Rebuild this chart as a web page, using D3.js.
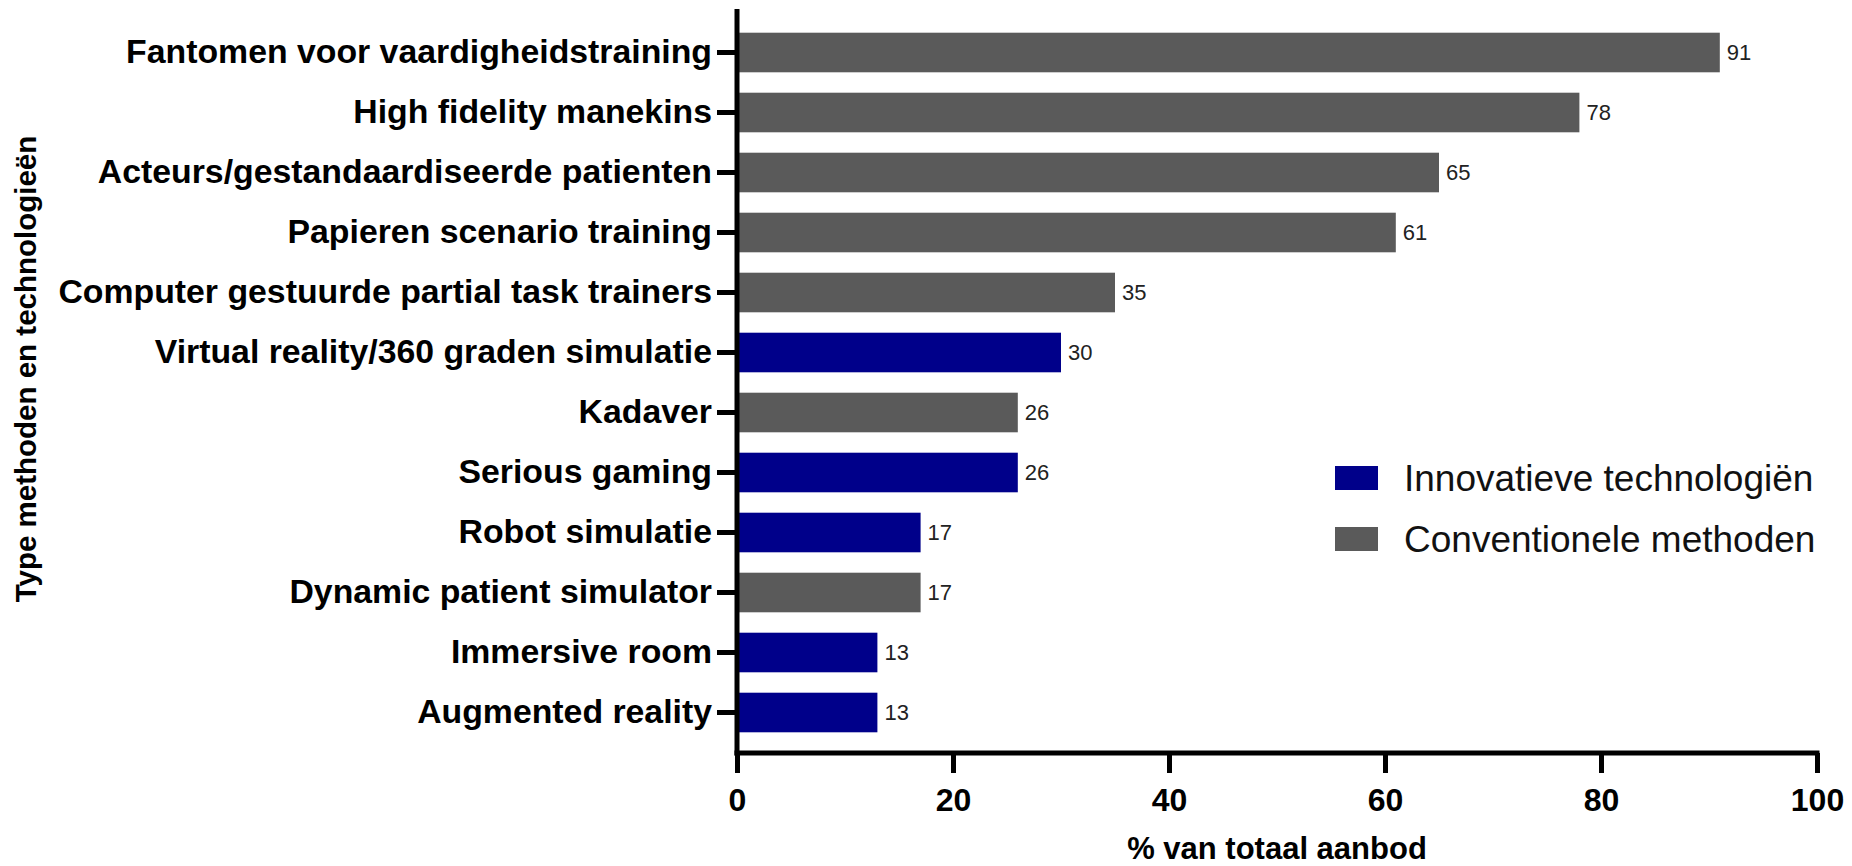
<!DOCTYPE html>
<html>
<head>
<meta charset="utf-8">
<script src="https://cdn.jsdelivr.net/npm/d3@7"></script>
<style>
  html, body { margin: 0; padding: 0; background: #ffffff; }
  svg { display: block; font-family: "Liberation Sans", Arial, sans-serif; }
</style>
</head>
<body>
<svg id="chart" width="1852" height="866"></svg>
<script>
const categories = [
  "Fantomen voor vaardigheidstraining",
  "High fidelity manekins",
  "Acteurs/gestandaardiseerde patienten",
  "Papieren scenario training",
  "Computer gestuurde partial task trainers",
  "Virtual reality/360 graden simulatie",
  "Kadaver",
  "Serious gaming",
  "Robot simulatie",
  "Dynamic patient simulator",
  "Immersive room",
  "Augmented reality"
];
const values = [91, 78, 65, 61, 35, 30, 26, 26, 17, 17, 13, 13];
const groups = ["conv", "conv", "conv", "conv", "conv", "innov", "conv", "innov", "innov", "conv", "innov", "innov"];
const legendKeys = ["innov", "conv"];
const legendLabels = ["Innovatieve technologiën", "Conventionele methoden"];
const xTicks = [0, 20, 40, 60, 80, 100];
const xTitle = "% van totaal aanbod";
const yTitle = "Type methoden en technologieën";

const svg = d3.select("#chart");
const plotLeft = 737, plotRight = 1817, plotTop = 22.5, plotBottom = 742.5, axisY = 753;

const color = d3.scaleOrdinal().domain(legendKeys).range(["#00008a", "#5a5a5a"]);
const x = d3.scaleLinear().domain([0, 100]).range([plotLeft, plotRight]);
const y = d3.scaleBand().domain(categories).range([plotTop, plotBottom]).paddingInner(0.34).paddingOuter(0.17);

// bars
svg.append("g").selectAll("rect").data(categories).join("rect")
  .attr("x", x(0))
  .attr("y", d => y(d))
  .attr("width", (d, i) => x(values[i]) - x(0))
  .attr("height", y.bandwidth())
  .attr("fill", (d, i) => color(groups[i]));

// value labels
svg.append("g").selectAll("text").data(categories).join("text")
  .attr("x", (d, i) => x(values[i]) + 7)
  .attr("y", d => y(d) + y.bandwidth() / 2)
  .attr("dy", "0.35em")
  .attr("font-size", 22)
  .attr("fill", "#222")
  .text((d, i) => values[i]);

// y axis
const yAxis = svg.append("g")
  .attr("transform", `translate(${plotLeft},0)`)
  .call(d3.axisLeft(y).tickSize(20).tickPadding(5));
yAxis.select(".domain").remove();
yAxis.append("line")
  .attr("x1", 0).attr("x2", 0).attr("y1", 9).attr("y2", axisY + 2.5)
  .attr("stroke", "#000").attr("stroke-width", 5);
yAxis.selectAll(".tick line").attr("stroke", "#000").attr("stroke-width", 5);
yAxis.selectAll(".tick text")
  .attr("font-size", 33.8).attr("font-weight", "bold").attr("fill", "#000")
  .attr("font-family", "'Liberation Sans', Arial, sans-serif");

// x axis
const xAxis = svg.append("g")
  .attr("transform", `translate(0,${axisY})`)
  .call(d3.axisBottom(x).tickValues(xTicks).tickSize(20).tickPadding(15));
xAxis.select(".domain").remove();
xAxis.append("line")
  .attr("x1", plotLeft - 2.5).attr("x2", plotRight + 2.5).attr("y1", 0).attr("y2", 0)
  .attr("stroke", "#000").attr("stroke-width", 5);
xAxis.selectAll(".tick line").attr("stroke", "#000").attr("stroke-width", 5);
xAxis.selectAll(".tick text")
  .attr("font-size", 32).attr("font-weight", "bold").attr("fill", "#000")
  .attr("font-family", "'Liberation Sans', Arial, sans-serif");

// axis titles
svg.append("text")
  .attr("x", (plotLeft + plotRight) / 2).attr("y", 859)
  .attr("text-anchor", "middle")
  .attr("font-size", 31).attr("font-weight", "bold").attr("fill", "#000")
  .text(xTitle);

svg.append("text")
  .attr("transform", "translate(36,369) rotate(-90)")
  .attr("text-anchor", "middle")
  .attr("font-size", 29.5).attr("font-weight", "bold").attr("fill", "#000")
  .text(yTitle);

// legend
const legend = svg.append("g").attr("transform", "translate(1335,478)");
const items = legend.selectAll("g").data(legendKeys).join("g")
  .attr("transform", (d, i) => `translate(0,${i * 61})`);
items.append("rect")
  .attr("x", 0).attr("y", -12).attr("width", 43).attr("height", 24)
  .attr("fill", d => color(d));
items.append("text")
  .attr("x", 69).attr("y", 0).attr("dy", "0.35em")
  .attr("font-size", 37).attr("fill", "#111")
  .text((d, i) => legendLabels[i]);
</script>
</body>
</html>
